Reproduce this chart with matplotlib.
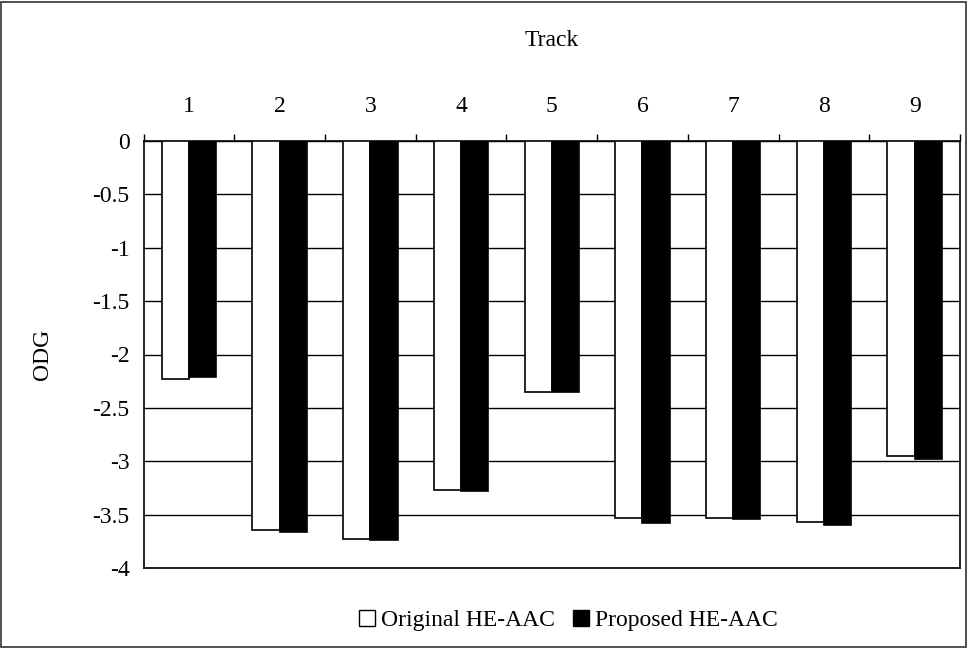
import matplotlib
matplotlib.use("Agg")
import matplotlib.pyplot as plt
from matplotlib.lines import Line2D
from matplotlib.patches import Rectangle
import numpy as np

plt.rcParams['font.family'] = ['Liberation Serif', 'DejaVu Serif']

tracks = ['1', '2', '3', '4', '5', '6', '7', '8', '9']
original = [-2.23, -3.64, -3.73, -3.27, -2.35, -3.53, -3.53, -3.57, -2.95]
proposed = [-2.21, -3.66, -3.74, -3.28, -2.35, -3.58, -3.54, -3.60, -2.98]
yticks = [0, -0.5, -1, -1.5, -2, -2.5, -3, -3.5, -4]
ytick_labels = ['0', '-0.5', '-1', '-1.5', '-2', '-2.5', '-3', '-3.5', '-4']

FS = 17

fig = plt.figure(figsize=(9.68, 6.48), dpi=100)
ax = fig.add_axes([143.5 / 968, 1 - 568 / 648, (960 - 143.5) / 968, (568 - 141) / 648])

x = np.arange(1, len(tracks) + 1)
w = 0.3
ax.bar(x - w / 2, original, width=w, color='white', edgecolor='black', linewidth=1.2, zorder=3)
ax.bar(x + w / 2, proposed, width=w, color='black', edgecolor='black', linewidth=1.2, zorder=3)

ax.set_xlim(0.5, len(tracks) + 0.5)
ax.set_ylim(-4, 0)
ax.set_yticks(yticks)
ax.set_yticklabels(ytick_labels)
ax.yaxis.grid(True, color='black', linewidth=1.0, zorder=0)
ax.set_axisbelow(True)
ax.tick_params(axis='y', length=0, pad=10, labelsize=FS)

# category axis sits on top at y = 0
ax.xaxis.set_ticks_position('top')
ax.xaxis.set_label_position('top')
ax.set_xticks(np.arange(0.5, len(tracks) + 1, 1.0))
ax.set_xticklabels([])
ax.set_xticks(x, minor=True)
ax.set_xticklabels(tracks, minor=True)
ax.tick_params(axis='x', which='major', direction='out', length=5, width=1, color='black')
ax.tick_params(axis='x', which='minor', length=0, pad=17, labelsize=FS)
ax.set_xlabel('Track', fontsize=FS, labelpad=36)
ax.set_ylabel('ODG', fontsize=FS, labelpad=28)

for s in ax.spines.values():
    s.set_color('black')
    s.set_linewidth(1.2)

handles = [
    Line2D([], [], marker='s', linestyle='none', markersize=11, markerfacecolor='white',
           markeredgecolor='black', markeredgewidth=1),
    Line2D([], [], marker='s', linestyle='none', markersize=11, markerfacecolor='black',
           markeredgecolor='black', markeredgewidth=1),
]
fig.legend(handles, ['Original HE-AAC', 'Proposed HE-AAC'], loc='center',
           bbox_to_anchor=(568.5 / 968, 1 - 620 / 648), ncol=2, frameon=False,
           fontsize=FS, handlelength=0.6, handletextpad=0.3, columnspacing=0.8)

fig.patches.append(Rectangle((0.001, 0.0015), 0.997, 0.996, transform=fig.transFigure,
                             fill=False, edgecolor='#333333', linewidth=1.2))

fig.savefig('out.png', dpi=100)
